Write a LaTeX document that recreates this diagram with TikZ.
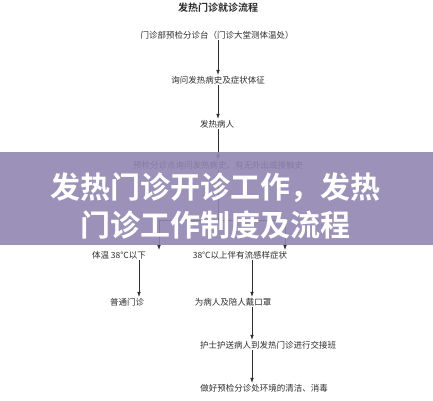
\documentclass[tikz,border=0pt]{standalone}
\usepackage{fontspec}
\usepackage{xcolor}
\usetikzlibrary{arrows.meta,positioning,calc}
\newfontfamily\cjk{Noto Sans CJK SC}[BoldFont={Noto Sans CJK SC Bold}]
\definecolor{BannerColor}{RGB}{144,133,177}
\definecolor{TextColor}{RGB}{45,45,45}
\tikzset{
  flowstep/.style={font=\cjk\fontsize{8.5}{10}\selectfont, inner sep=1pt, text=TextColor},
  flowtitle/.style={font=\cjk\bfseries\fontsize{10}{12}\selectfont, inner sep=1pt, text=TextColor},
  flowarrow/.style={->, line width=0.6pt, TextColor},
}

\begin{document}
\begin{tikzpicture}[>={Latex[length=5pt,width=3.6pt]}, x=1pt, y=-1pt]
      \useasboundingbox (0,0) rectangle (433,400);
      % title and main column
      \node[flowtitle] (title) at (218,8) {发热门诊就诊流程};
      \node[flowstep] (desk) at (217,35) {门诊部预检分诊台（门诊大堂测体温处）};
      \node[flowstep] (ask) at (218,80) {询问发热病史及症状体征};
      \node[flowstep] (fever) at (217,124) {发热病人};
      \node[flowstep] (hist) at (218,165) {预检分诊点询问发热病史、有无外出或接触史};
      \draw[flowarrow] (desk.south -| 218,0) -- (ask.north -| 218,0);
      \draw[flowarrow] (ask.south -| 218,0) -- (fever.north -| 218,0);
      \draw[flowarrow] (fever.south -| 218,0) -- (hist.north -| 218,0);
      % split into two branches
      \coordinate (split) at (218,220);
      \coordinate (splitL) at (159,220);
      \coordinate (splitR) at (285,220);
      \node[flowstep] (low) at (119,255) {体温 38℃以下};
      \node[flowstep] (high) at (240,255) {38℃以上伴有流感样症状};
      \draw[line width=0.6pt, TextColor] (hist.south -| split) -- (split);
      \draw[line width=0.6pt, TextColor] (splitL) -- (splitR);
      \draw[flowarrow] (splitL) -- (splitL |- low.north);
      \draw[flowarrow] (splitR) -- (splitR |- high.north);
      % left branch
      \node[flowstep] (normal) at (127,302) {普通门诊};
      \draw[flowarrow] (low.south -| 139,0) -- (normal.north -| 139,0);
      % right branch
      \node[flowstep] (mask) at (233,302) {为病人及陪人戴口罩};
      \node[flowstep] (escort) at (268,345) {护士护送病人到发热门诊进行交接班};
      \node[flowstep] (clean) at (264,388) {做好预检分诊处环境的清洁、消毒};
      \draw[flowarrow] (high.south -| 252,0) -- (mask.north -| 252,0);
      \draw[flowarrow] (mask.south -| 252,0) -- (escort.north -| 252,0);
      \draw[flowarrow] (escort.south -| 252,0) -- (clean.north -| 252,0);
      % banner over the middle
      \fill[BannerColor, fill opacity=0.9] (0,152) rectangle (433,245);
      \node[font=\cjk\bfseries\fontsize{30}{38}\selectfont, text=white, align=center, inner sep=0pt] (banner) at (215,206) {发热门诊开诊工作，发热\\门诊工作制度及流程};
    \end{tikzpicture}
\end{document}
